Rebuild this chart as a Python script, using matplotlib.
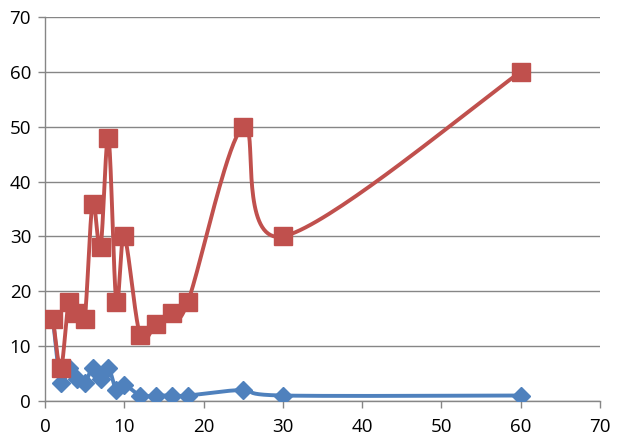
import numpy as np
import matplotlib
matplotlib.use("Agg")
import matplotlib.pyplot as plt

x_vals = [1, 2, 3, 4, 5, 6, 7, 8, 9, 10, 12, 14, 16, 18, 25, 30, 60]
red_vals = [15, 6, 18, 16, 15, 36, 28, 48, 18, 30, 12, 14, 16, 18, 50, 30, 60]
blue_vals = [15, 3.2, 6, 4, 3.2, 6, 4, 6, 2, 3, 1, 1, 1, 1, 2, 1, 1]
x_ticks = [0, 10, 20, 30, 40, 50, 60, 70]
y_ticks = [0, 10, 20, 30, 40, 50, 60, 70]

RED = "#C0504D"
BLUE = "#4F81BD"


def smooth(xs, ys, n=40, t=1/6):
    xs = np.asarray(xs, float)
    ys = np.asarray(ys, float)
    px, py = [], []
    m = len(xs)
    for i in range(m - 1):
        p0 = np.array([xs[max(i - 1, 0)], ys[max(i - 1, 0)]])
        p1 = np.array([xs[i], ys[i]])
        p2 = np.array([xs[i + 1], ys[i + 1]])
        p3 = np.array([xs[min(i + 2, m - 1)], ys[min(i + 2, m - 1)]])
        c1 = p1 + (p2 - p0) * t
        c2 = p2 - (p3 - p1) * t
        s = np.linspace(0, 1, n)[:, None]
        pts = ((1 - s) ** 3) * p1 + 3 * ((1 - s) ** 2) * s * c1 + 3 * (1 - s) * s ** 2 * c2 + s ** 3 * p2
        px.extend(pts[:, 0])
        py.extend(pts[:, 1])
    return np.array(px), np.array(py)


fig = plt.figure(figsize=(6.22, 4.46), dpi=100)
ax = fig.add_axes([45 / 622, 45 / 446, (600 - 45) / 622, (401 - 17) / 446])

bx, by = smooth(x_vals, blue_vals)
ax.plot(bx, by, color=BLUE, lw=2.8, zorder=3, solid_capstyle="round")
ax.plot(x_vals, blue_vals, ls="none", marker="D", ms=9.5, color=BLUE, zorder=4)

rx, ry = smooth(x_vals, red_vals)
ax.plot(rx, ry, color=RED, lw=2.8, zorder=5, solid_capstyle="round")
ax.plot(x_vals, red_vals, ls="none", marker="s", ms=12.5, color=RED, zorder=6)

ax.set_xlim(0, 70)
ax.set_ylim(0, 70)
ax.set_xticks(x_ticks)
ax.set_yticks(y_ticks)
ax.yaxis.grid(True, color="#868686", lw=1)
ax.set_axisbelow(True)
for s in ["top", "right"]:
    ax.spines[s].set_visible(False)
for s in ["left", "bottom"]:
    ax.spines[s].set_color("#868686")
    ax.spines[s].set_linewidth(1)
ax.tick_params(axis="both", colors="#868686", length=5, width=1, labelsize=13.5,
               labelcolor="black", direction="out")
ax.tick_params(axis="x", pad=7)
ax.tick_params(axis="y", pad=5)
for lab in ax.get_xticklabels() + ax.get_yticklabels():
    lab.set_family(["Open Sans", "DejaVu Sans"])

fig.savefig("out.png", dpi=100)
